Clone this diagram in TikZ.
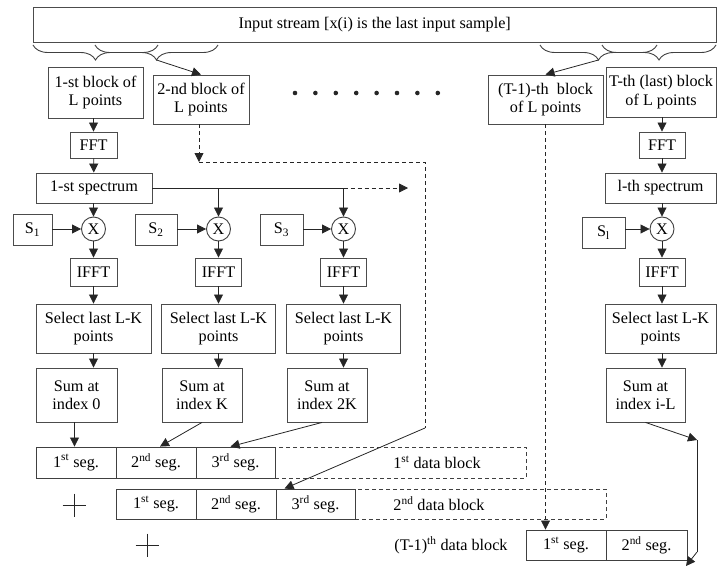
\documentclass[tikz,border=0pt]{standalone}
\usepackage{fontspec}
\setmainfont{Liberation Serif}
\usetikzlibrary{arrows.meta,decorations.pathreplacing,calc}
\begin{document}
\begin{tikzpicture}[x=1pt,y=-1pt,
  font=\fontsize{16.2}{18.3}\selectfont,
  box/.style={draw=black!70, line width=0.9pt, fill=white, inner sep=0pt, align=center},
  mult/.style={circle, draw=black!75, line width=0.9pt, fill=white, minimum size=24pt, inner sep=0pt},
  seg/.style={draw=black!75, line width=0.9pt, fill=white, inner sep=0pt},
  dblock/.style={draw=black!75, dash pattern=on 4pt off 3pt, line width=0.9pt, inner sep=0pt},
  link/.style={draw=black!85, line width=0.8pt},
  arr/.style={link, -{Triangle[length=9pt,width=9pt]}},
  dsh/.style={dash pattern=on 4pt off 3pt},
  brc/.style={draw=black!75, line width=0.9pt, decorate, decoration={brace, mirror, amplitude=15pt}},
]
\useasboundingbox (0,0) rectangle (717,567);

% input stream and the braces that cut it into blocks
\node[box, minimum width=683.5pt, minimum height=35pt] (inp) at (374.75,24.5) {Input stream [x(i) is the last input sample]};
\draw[brc] (33,45) -- (158,45);
\draw[brc] (95,45) -- (218,45);
\draw[brc] (540,45) -- (657,45);
\draw[brc] (602,45) -- (716,45);
\coordinate (tipB) at (156.5,60);
\coordinate (tipC) at (598.5,60);

% blocks of L points
\node[box, minimum width=95pt, minimum height=51pt] (b1) at (95.5,92.5) {1-st block of\\L points};
\node[box, minimum width=96pt, minimum height=49pt] (b2) at (201,99.5) {2-nd block of\\L points};
\node[box, minimum width=115pt, minimum height=49pt] (bT1) at (545.5,99.5) {(T-1)-th~ block\\of L points};
\node[box, minimum width=110pt, minimum height=50pt] (bT) at (661,92) {T-th (last) block\\of L points};
\foreach \k in {0,...,7} \fill[black!85] (295+\k*20.4,93) circle (2.3pt);

\draw[arr] (tipB) -- (b2.north);
\draw[arr] (tipC) -- (bT1.north);

% first column
\node[box, minimum width=47pt, minimum height=26pt] (fft1) at (93.5,145) {FFT};
\node[box, minimum width=116pt, minimum height=30pt] (spec1) at (94,188) {1-st spectrum};
\node[mult] (x1) at (93.5,229) {X};
\node[box, minimum width=39pt, minimum height=31pt] (s1) at (32.5,229.5) {S\textsubscript{1}};
\node[box, minimum width=47pt, minimum height=28pt] (ifft1) at (93.5,272) {IFFT};
\node[box, minimum width=115pt, minimum height=49pt] (sel1) at (93.5,328.5) {Select last L-K\\points};
\node[box, minimum width=81pt, minimum height=54pt] (sum1) at (76.5,395) {Sum at\\index 0};

% second column
\node[mult] (x2) at (218.5,229) {X};
\node[box, minimum width=42pt, minimum height=31pt] (s2) at (156,229.5) {S\textsubscript{2}};
\node[box, minimum width=46pt, minimum height=28pt] (ifft2) at (218.5,272) {IFFT};
\node[box, minimum width=114pt, minimum height=49pt] (sel2) at (218.5,328.5) {Select last L-K\\points};
\node[box, minimum width=80pt, minimum height=54pt] (sum2) at (202,395) {Sum at\\index K};

% third column
\node[mult] (x3) at (343.5,229) {X};
\node[box, minimum width=43pt, minimum height=31pt] (s3) at (281.5,229.5) {S\textsubscript{3}};
\node[box, minimum width=46pt, minimum height=28pt] (ifft3) at (343.5,272) {IFFT};
\node[box, minimum width=114pt, minimum height=49pt] (sel3) at (343.5,328.5) {Select last L-K\\points};
\node[box, minimum width=80pt, minimum height=54pt] (sum3) at (327,395) {Sum at\\index 2K};

% last column
\node[box, minimum width=46pt, minimum height=26pt] (fftT) at (662,145) {FFT};
\node[box, minimum width=111pt, minimum height=30pt] (specT) at (660.5,188) {l-th spectrum};
\node[mult] (xT) at (662,229) {X};
\node[box, minimum width=43pt, minimum height=31pt] (sT) at (603.5,232.5) {S\textsubscript{l}};
\node[box, minimum width=46pt, minimum height=28pt] (ifftT) at (662,272) {IFFT};
\node[box, minimum width=111pt, minimum height=49pt] (selT) at (660.5,328.5) {Select last L-K\\points};
\node[box, minimum width=79pt, minimum height=54pt] (sumT) at (645.5,395) {Sum at\\index i-L};

% output data blocks
\node[dblock, minimum width=251pt, minimum height=31pt] (r1d) at (400.5,462.5) {};
\node[inner sep=0pt] (r1t) at (437,462.5) {1\textsuperscript{st} data block};
\node[seg, minimum width=80pt, minimum height=31pt] (r1c1) at (76,462.5) {1\textsuperscript{st} seg.};
\node[seg, minimum width=80pt, minimum height=31pt] (r1c2) at (156,462.5) {2\textsuperscript{nd} seg.};
\node[seg, minimum width=79pt, minimum height=31pt] (r1c3) at (235.5,462.5) {3\textsuperscript{rd} seg.};

\node[dblock, minimum width=251pt, minimum height=30pt] (r2d) at (480.5,504) {};
\node[inner sep=0pt] (r2t) at (439,504) {2\textsuperscript{nd} data block};
\node[seg, minimum width=80pt, minimum height=30pt] (r2c1) at (156,504) {1\textsuperscript{st} seg.};
\node[seg, minimum width=80pt, minimum height=30pt] (r2c2) at (236,504) {2\textsuperscript{nd} seg.};
\node[seg, minimum width=79pt, minimum height=30pt] (r2c3) at (315.5,504) {3\textsuperscript{rd} seg.};

\node[inner sep=0pt] (r3t) at (451,545) {(T-1)\textsuperscript{th} data block};
\node[seg, minimum width=80pt, minimum height=30pt] (r3c1) at (566,545) {1\textsuperscript{st} seg.};
\node[seg, minimum width=81pt, minimum height=30pt] (r3c2) at (646.5,545) {2\textsuperscript{nd} seg.};

% plus signs between the rows
\draw[black!85, line width=0.9pt] (62.5,505) -- (85.5,505) (74,493.5) -- (74,516.5);
\draw[black!85, line width=0.9pt] (135.5,545) -- (158.5,545) (147,533.5) -- (147,556.5);

% column connectors
\draw[arr] (b1.south -| fft1) -- (fft1);
\draw[arr] (fft1) -- (spec1);
\draw[arr] (spec1.south -| x1) -- (x1);
\draw[arr] (s1.east |- x1) -- (x1);
\draw[arr] (x1) -- (ifft1);
\draw[arr] (ifft1) -- (ifft1 |- sel1.north);
\draw[arr] (sel1.south) -- (sel1.south |- sum1.north);

\draw[link] (spec1.east) -- (x3 |- spec1.east);
\coordinate (busend) at (408,188);
\draw[arr, dsh] (x3 |- spec1.east) -- (busend);
\draw[arr] (x2 |- spec1.east) -- (x2);
\draw[arr] (x3 |- spec1.east) -- (x3);

\draw[arr] (s2.east |- x2) -- (x2);
\draw[arr] (x2) -- (ifft2);
\draw[arr] (ifft2) -- (ifft2 |- sel2.north);
\draw[arr] (sel2.south) -- (sel2.south |- sum2.north);

\draw[arr] (s3.east |- x3) -- (x3);
\draw[arr] (x3) -- (ifft3);
\draw[arr] (ifft3) -- (ifft3 |- sel3.north);
\draw[arr] (sel3.south) -- (sel3.south |- sum3.north);

\draw[arr] (bT.south -| fftT) -- (fftT);
\draw[arr] (fftT) -- (fftT |- specT.north);
\draw[arr] (specT.south -| xT) -- (xT);
\draw[arr] (sT.east |- xT) -- (xT);
\draw[arr] (xT) -- (ifftT);
\draw[arr] (ifftT) -- (ifftT |- selT.north);
\draw[arr] (selT.south -| xT) -- (xT |- sumT.north);

% sums into the output segments
\draw[arr] ([xshift=-2pt]sum1.south) -- ([xshift=-2pt]sum1.south |- r1c1.north);
\draw[arr] (sum2.south) -- ([xshift=4pt]r1c2.north);
\draw[arr] ([xshift=-5pt]sum3.south) -- ([xshift=-5pt]r1c3.north);

% second block path
\coordinate (c1) at (199,162);
\coordinate (c2) at (425,162);
\coordinate (c3) at (425,428);
\draw[arr, dsh] (b2.south -| c1) -- (c1);
\draw[link, dsh] (c1) -- (c2) -- (c3);
\draw[arr] (c3) -- ([xshift=9pt]r2c3.north west);

% (T-1)-th block path
\draw[arr, dsh] (bT1.south) -- (bT1.south |- r3c1.north);

% last block path
\coordinate (d1) at (697,440);
\coordinate (d2) at (697,552);
\coordinate (d3) at (686,566);
\draw[arr] (sumT.south) -- (d1);
\draw[link] (d1) -- (d2);
\draw[arr] (d2) -- (d3);
\end{tikzpicture}
\end{document}
